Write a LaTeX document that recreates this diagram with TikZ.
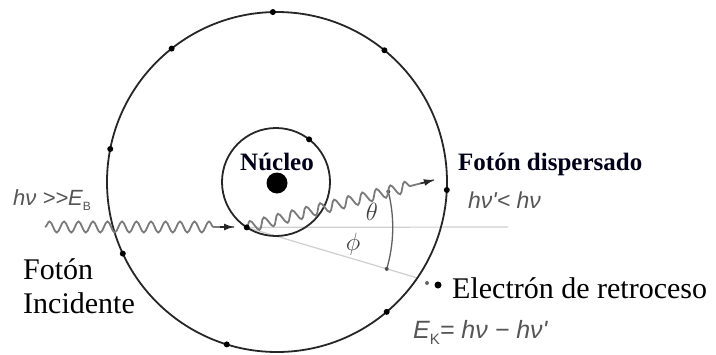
\documentclass[tikz,border=0pt]{standalone}
\usepackage{fontspec}
\setmainfont{Liberation Serif}
\newfontfamily\arialf{Liberation Sans}
\usetikzlibrary{decorations.pathmorphing,arrows.meta,calc}
\definecolor{wavegray}{HTML}{7A7A7A}
\definecolor{txtgray}{HTML}{555555}
\definecolor{lightline}{HTML}{CFCFCF}
\definecolor{orbit}{HTML}{262626}
\definecolor{arcgray}{HTML}{606060}
\begin{document}
\begin{tikzpicture}[x=1pt,y=-1pt,
  orbitline/.style={draw=orbit, line width=1.8pt},
  edot/.style={circle, fill=black, inner sep=0pt, minimum size=6pt},
  smalldot/.style={circle, fill=arcgray!80!black, inner sep=0pt, minimum size=4pt},
  photon/.style={draw=wavegray, line width=1.8pt, decorate,
    decoration={snake, amplitude=5.5pt, segment length=14.5pt, post length=18pt}},
  photontip/.style={draw=black!85, line width=1.4pt, -{Latex[length=10pt,width=7pt]}},
  guide/.style={draw=lightline, line width=1.2pt},
  anglearc/.style={draw=arcgray, line width=1.3pt},
  serifbig/.style={inner sep=0pt, font=\fontsize{30}{34}\selectfont, text=black},
  serifbold/.style={inner sep=0pt, font=\bfseries\fontsize{25}{29}\selectfont, text=black!90!blue},
  sansgray/.style={inner sep=0pt, font=\arialf\itshape\fontsize{22}{26}\selectfont, text=txtgray},
  greek/.style={inner sep=0pt, font=\fontsize{25}{29}\selectfont, text=black!75}
]
\useasboundingbox (0,0) rectangle (716,354);
\fill[white] (0,0) rectangle (716,354);

% centres
\coordinate (C) at (277,182);
\coordinate (C2) at (276,182);
\coordinate (e1) at ([shift={(122.8:54)}]C2);
\coordinate (inA) at (45,227);
\coordinate (inB) at (234,227);
\coordinate (scB) at (434,180);
\coordinate (elB) at ([shift={(16.5:178)}]e1);
\coordinate (hzB) at (508,227);

% guide lines
\draw[guide] (e1) -- (hzB);
\draw[guide] (e1) -- (elB);

% orbits
\draw[orbitline] (C) circle[radius=170];
\draw[orbitline] (C2) circle[radius=54];
\fill[black] (277,183) circle[radius=10.5];

% angle arc
\draw[anglearc] ([shift={(-14.2:146)}]e1) arc[start angle=-14.2, end angle=16.5, radius=146];
\node[smalldot] (a1) at ([shift={(-14.2:146)}]e1) {};
\node[smalldot] (a2) at ([shift={(16.5:146)}]e1) {};

% photons
\draw[photon] (inA) -- (inB);
\draw[photontip] ($(inB)!14pt!(inA)$) -- (inB);
\draw[photon] (e1) -- (scB);
\draw[photontip] ($(scB)!14pt!(e1)$) -- (scB);

% electrons on orbits
\foreach \a [count=\i] in {-91.4,-128.3,-50.8,-168.8,-204.9,2.7,49.8,107.2}
  \node[edot] (o\i) at ([shift={(\a:170)}]C) {};
\node[edot] (i1) at (e1) {};
\node[edot] (i2) at ([shift={(-52.2:54)}]C2) {};

% recoil electron
\node[circle, fill=black!60, inner sep=0pt, minimum size=4pt] (r1) at (427,283) {};
\node[edot, minimum size=7pt] (r2) at (438,285) {};

% labels
\node[greek] (th) at (372,212) {$\theta$};
\node[greek] (ph) at (353,244) {$\phi$};

\node[sansgray, anchor=base west] (hv1) at (13,205) {hν >>E\raisebox{-0.25em}{\fontsize{12}{12}\selectfont\upshape B}};
\node[serifbig, anchor=base west] (fi1) at (23,279) {Fotón};
\node[serifbig, anchor=base west] (fi2) at (23,313) {Incidente};
\node[serifbold, anchor=base] (nuc) at (277,170) {Núcleo};
\node[serifbold, anchor=base west] (fd) at (458,170) {Fotón dispersado};
\node[sansgray, font=\arialf\itshape\fontsize{23}{27}\selectfont, anchor=base west] (hv2) at (468,208) {hν'< hν};
\node[sansgray, font=\arialf\itshape\fontsize{25}{29}\selectfont, anchor=base west] (ek) at (413,338) {E\raisebox{-0.25em}{\fontsize{15}{15}\selectfont\upshape K}= hν − hν'};
\node[serifbig, anchor=base west] (er) at (452,298) {Electrón de retroceso};
\end{tikzpicture}
\end{document}
